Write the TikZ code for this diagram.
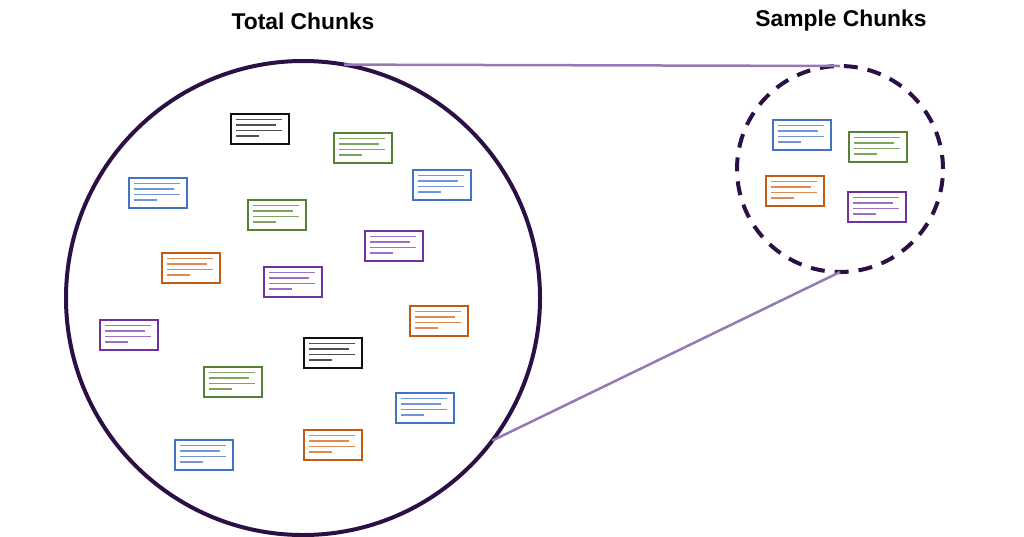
\documentclass[tikz,border=0pt]{standalone}
\usepackage{fontspec}
\setmainfont{Liberation Sans}
\definecolor{circ}{HTML}{2B0F45}
\definecolor{link}{HTML}{9579B2}
\definecolor{cblue}{HTML}{4472C4}\definecolor{lblue}{HTML}{7096D8}
\definecolor{cgreen}{HTML}{548235}\definecolor{lgreen}{HTML}{7EA560}
\definecolor{corange}{HTML}{C55A11}\definecolor{lorange}{HTML}{E08C50}
\definecolor{cpurple}{HTML}{7030A0}\definecolor{lpurple}{HTML}{9D70C4}
\definecolor{cblack}{HTML}{111111}\definecolor{lblack}{HTML}{505050}
\tikzset{
  chunkbox/.style={draw=#1, line width=2pt, fill=white, minimum width=58pt, minimum height=30pt, inner sep=0pt},
  chunkline/.style={draw=#1, line width=1.8pt},
  title/.style={font=\bfseries\fontsize{22.8}{26}\selectfont, text=black},
}
\newcommand{\mychunk}[5]{%
  \node[chunkbox=#4] (#1) at (#2,-#3) {};
  \draw[chunkline=#5] ([xshift=6pt,yshift=-6.5pt]#1.north west) -- ++(46pt,0);
  \draw[chunkline=#5] ([xshift=6pt,yshift=-12pt]#1.north west) -- ++(40pt,0);
  \draw[chunkline=#5] ([xshift=6pt,yshift=-17.5pt]#1.north west) -- ++(46pt,0);
  \draw[chunkline=#5] ([xshift=6pt,yshift=-23pt]#1.north west) -- ++(23pt,0);
}
\begin{document}
\begin{tikzpicture}[x=1pt,y=1pt]
\useasboundingbox (0,0) rectangle (1024,-536);
% circles
\node[circle, draw=circ, line width=4pt, minimum size=474pt, inner sep=0pt, outer sep=0pt] (big) at (303,-298) {};
\node[circle, draw=circ, line width=4pt, dash pattern=on 14pt off 10pt, minimum size=206pt, inner sep=0pt, outer sep=0pt] (small) at (840,-169) {};
% connectors
\draw[link, line width=2.5pt] (big.80) -- (small.north);
\draw[link, line width=2.5pt] (big.-37.6) -- (small.south);
% titles
\node[title] (t1) at (303,-21) {Total Chunks};
\node[title] (t2) at (841,-21) {Sample Chunks};
% total chunks
\mychunk{a1}{260}{129}{cblack}{lblack}
\mychunk{a2}{363}{148}{cgreen}{lgreen}
\mychunk{a3}{158}{193}{cblue}{lblue}
\mychunk{a4}{442}{185}{cblue}{lblue}
\mychunk{a5}{277}{215}{cgreen}{lgreen}
\mychunk{a6}{394}{246}{cpurple}{lpurple}
\mychunk{a7}{191}{268}{corange}{lorange}
\mychunk{a8}{293}{282}{cpurple}{lpurple}
\mychunk{a9}{439}{321}{corange}{lorange}
\mychunk{a10}{129}{335}{cpurple}{lpurple}
\mychunk{a11}{333}{353}{cblack}{lblack}
\mychunk{a12}{233}{382}{cgreen}{lgreen}
\mychunk{a13}{425}{408}{cblue}{lblue}
\mychunk{a14}{204}{455}{cblue}{lblue}
\mychunk{a15}{333}{445}{corange}{lorange}
% sample chunks
\mychunk{b1}{802}{135}{cblue}{lblue}
\mychunk{b2}{878}{147}{cgreen}{lgreen}
\mychunk{b3}{795}{191}{corange}{lorange}
\mychunk{b4}{877}{207}{cpurple}{lpurple}
\end{tikzpicture}
\end{document}
